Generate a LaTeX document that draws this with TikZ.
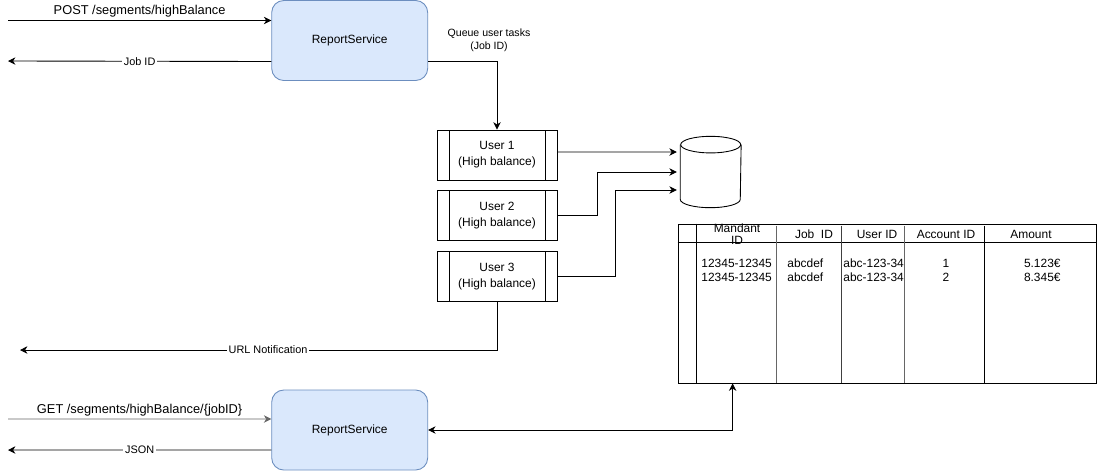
\documentclass[tikz,border=0pt]{standalone}
\usepackage{fontspec}
\setmainfont{Liberation Sans}
\usetikzlibrary{positioning,arrows.meta}

\definecolor{svcfill}{HTML}{DAE8FC}
\definecolor{svcline}{HTML}{6C8EBF}

\begin{document}
\begin{tikzpicture}[
x=0.02cm,y=-0.02cm,
line width=0.5pt,
tip/.tip={Stealth[length=4.2pt,width=4.2pt,inset=1.3pt]},
svc/.style={
  draw=svcline,
  fill=svcfill,
  rounded corners=0.24cm,
  minimum width=3.12cm,
  minimum height=1.6cm,
  font=\fontsize{6.8}{8}\selectfont
},
usr/.style={
  draw,
  minimum width=2.4cm,
  minimum height=1cm,
  align=center,
  font=\fontsize{6.8}{9.2}\selectfont,
  path picture={
    \draw ([xshift=0.24cm]path picture bounding box.north west)
      -- ([xshift=0.24cm]path picture bounding box.south west);
    \draw ([xshift=-0.23cm]path picture bounding box.north east)
      -- ([xshift=-0.23cm]path picture bounding box.south east);
  }
},
lbl/.style={
  fill=white,
  inner sep=1pt,
  font=\fontsize{6.2}{7}\selectfont
},
big/.style={
  inner sep=1.5pt,
  font=\fontsize{7.3}{9}\selectfont
},
cell/.style={
  inner sep=0pt,
  font=\fontsize{6.8}{7}\selectfont
},
arr/.style={-tip},
node distance=0.2cm
]
\useasboundingbox (0,0) rectangle (1098,471);

% services
\node[svc] (top) at (349.7,40.5) {ReportService};
\node[svc] (bot) at (349.7,430) {ReportService};

% user tasks
\node[usr] (u1) at (497,155) {User 1\\(High balance)};
\node[usr,below=of u1] (u2) {User 2\\(High balance)};
\node[usr,below=of u2] (u3) {User 3\\(High balance)};

% storage
\node[minimum width=1.2cm,minimum height=1.41cm,inner sep=0pt] (db) at (710.7,172) {};
\draw ([yshift=-0.166cm]db.north) ellipse [x radius=0.6cm,y radius=0.166cm];
\draw ([yshift=-0.166cm]db.north west) -- ([yshift=0.166cm]db.south west)
  arc[start angle=180,end angle=360,x radius=0.6cm,y radius=0.166cm]
  -- ([yshift=-0.166cm]db.north east);

% free ends
\coordinate (postin) at (8,20.5);
\coordinate (jobout) at (8,61);
\coordinate (urlout) at (20,350);
\coordinate (getin) at (8,419);
\coordinate (jsonout) at (8,450);

% POST / GET requests
\draw[arr] (postin) -- node[big,above,midway] (postlbl) {POST /segments/highBalance}
  ([yshift=0.4cm]top.west);
\draw[arr] ([yshift=-0.42cm]top.west) -- node[lbl,midway] (joblbl) {Job ID} (jobout);
\draw[arr,black!60] (getin) -- node[big,above,midway,black] (getlbl) {GET /segments/highBalance/\{jobID\}}
  ([yshift=0.22cm]bot.west);
\draw[arr] ([yshift=-0.4cm]bot.west) -- node[lbl,midway] (jsonlbl) {JSON} (jsonout);

% queue
\draw[arr] ([yshift=-0.42cm]top.east) -| (u1.north);
\node[align=center,inner sep=0pt,font=\fontsize{6}{7.4}\selectfont] (qlbl) at (489,40.5)
  {Queue user tasks\\(Job ID)};

% into db
\draw[arr,shorten >=0.07cm] ([yshift=0.06cm]u1.east) -- ([yshift=0.4cm]db.west);
\draw[arr,shorten >=0.07cm] (u2.east) -- ++(40,0) |- (db.west);
\draw[arr,shorten >=0.07cm] (u3.east) -- ++(58,0) |- ([yshift=-0.36cm]db.west);

% notification
\draw[arr] (u3.south) |- node[lbl,pos=0.74] (urllbl) {URL Notification} (urlout);

% table
\node[draw,minimum width=8.36cm,minimum height=3.18cm,inner sep=0pt] (tbl) at (887,303.5) {};
\draw ([yshift=-0.38cm]tbl.north west) -- ([yshift=-0.38cm]tbl.north east);
\draw ([xshift=0.38cm]tbl.north west) -- ([xshift=0.38cm]tbl.south west);
\foreach \cx/\cc in {1.98/black!60,3.28/black!75,4.54/black!60,6.14/black}
  \draw[\cc] ([xshift=\cx cm,yshift=-0.04cm]tbl.north west) -- ([xshift=\cx cm]tbl.south west);

\node[cell,align=center] (hmand) at (737,234) {Mandant\\ID};
\node[cell] (hjob) at (814,234) {Job\ \ ID};
\node[cell] (huser) at (877,234) {User ID};
\node[cell] (hacc) at (946,234) {Account ID};
\node[cell] (hamt) at (1031,234) {Amount};

\node[cell,anchor=west] (amand) at (701,263) {12345-12345};
\node[cell,anchor=west] (ajob) at (787,263) {abcdef};
\node[cell,anchor=west] (auser) at (843,263) {abc-123-34};
\node[cell] (aacc) at (946,263) {1};
\node[cell,anchor=east] (aamt) at (1061,263) {5.123€};

\node[cell,anchor=west] (bmand) at (701,277) {12345-12345};
\node[cell,anchor=west] (bjob) at (787,277) {abcdef};
\node[cell,anchor=west] (buser) at (843,277) {abc-123-34};
\node[cell] (bacc) at (946,277) {2};
\node[cell,anchor=east] (bamt) at (1061,277) {8.345€};

% result back to service
\draw[tip-tip] (bot.east) -| ([xshift=1.1cm]tbl.south west);
\end{tikzpicture}
\end{document}
